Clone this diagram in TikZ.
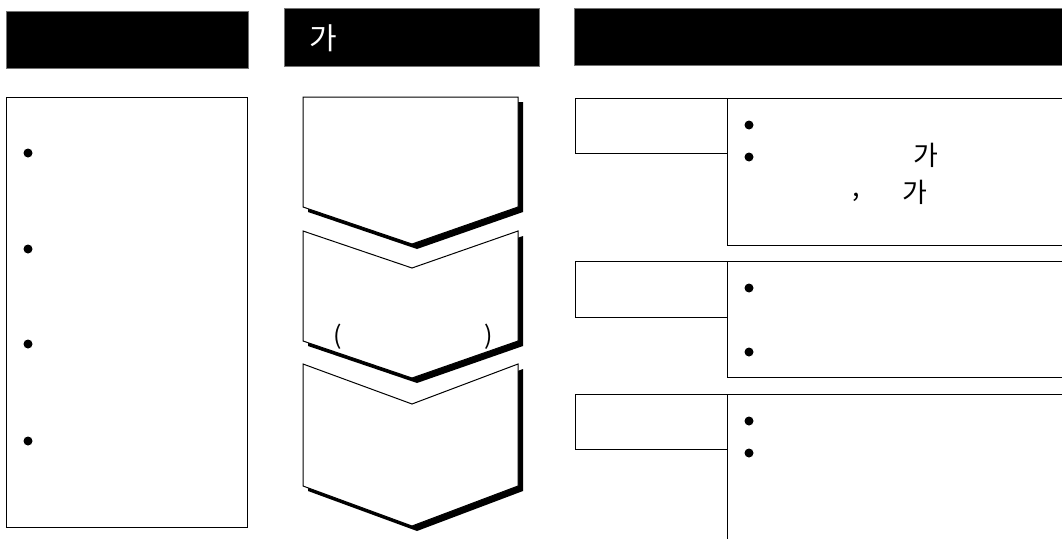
\documentclass[tikz,border=0pt]{standalone}
\usepackage{fontspec}
\setmainfont{Noto Sans CJK KR}
\begin{document}
\begin{tikzpicture}[x=1pt,y=-1pt,
  hbox/.style={draw=black!55,line width=0.8pt,fill=black,inner sep=0pt,outer sep=0pt,anchor=north west},
  pbox/.style={draw=black,line width=1pt,fill=white,inner sep=0pt,outer sep=0pt,anchor=north west},
  bul/.style={circle,fill=black,inner sep=0pt,minimum size=9pt},
  ktext/.style={inner sep=0pt,font=\fontsize{27}{29}\selectfont},
  chev/.style={draw=black,line width=1pt,fill=white,line join=miter},
  shad/.style={fill=black}]
\useasboundingbox (0,0) rectangle (1062,538);
\clip (0,0) rectangle (1062,538);
\fill[white] (0,0) rectangle (1062,538);
% headers
\node[hbox,minimum width=242pt,minimum height=57pt] (h1) at (6,11) {};
\node[hbox,minimum width=255pt,minimum height=58pt] (h2) at (284,8) {};
\node[hbox,minimum width=500pt,minimum height=57pt] (h3) at (574,8) {};
\node[inner sep=0pt,text=white,font=\fontsize{30}{32}\selectfont] (h2t) at (323,38) {가};
% left column
\node[pbox,minimum width=241pt,minimum height=430pt] (lbox) at (6,97) {};
\node[bul] (lb1) at (28,153) {};
\node[bul] (lb2) at (28,249) {};
\node[bul] (lb3) at (28,344) {};
\node[bul] (lb4) at (28,441) {};
% chevrons
\fill[shad,shift={(5,5)}] (303,97) -- (518,97) -- (518,207) -- (412,244) -- (303,207) -- cycle;
\draw[chev] (303,97) -- (518,97) -- (518,207) -- (412,244) -- (303,207) -- cycle;
\fill[shad,shift={(5,5)}] (303,231) -- (412,268) -- (518,231) -- (518,341) -- (412,378) -- (303,341) -- cycle;
\draw[chev] (303,231) -- (412,268) -- (518,231) -- (518,341) -- (412,378) -- (303,341) -- cycle;
\fill[shad,shift={(5,5)}] (303,364) -- (412,404) -- (518,364) -- (518,486) -- (412,526) -- (303,486) -- cycle;
\draw[chev] (303,364) -- (412,404) -- (518,364) -- (518,486) -- (412,526) -- (303,486) -- cycle;
\node[ktext,font=\fontsize{25}{27}\selectfont] (pl) at (338,337) {(};
\node[ktext,font=\fontsize{25}{27}\selectfont] (pr) at (489,337) {)};
% right column, section 1
\node[pbox,minimum width=152pt,minimum height=55pt] (s1a) at (575,98) {};
\node[pbox,minimum width=350pt,minimum height=147pt] (s1b) at (727,98) {};
\node[bul] (r11) at (749,125) {};
\node[bul] (r12) at (749,157) {};
\node[ktext] (t1) at (926,155) {가};
\node[ktext] (t2) at (856,197) {,};
\node[ktext] (t3) at (915,192) {가};
% section 2
\node[pbox,minimum width=152pt,minimum height=56pt] (s2a) at (575,261) {};
\node[pbox,minimum width=350pt,minimum height=116pt] (s2b) at (727,261) {};
\node[bul] (r21) at (749,288) {};
\node[bul] (r22) at (749,352) {};
% section 3
\node[pbox,minimum width=152pt,minimum height=55pt] (s3a) at (575,394) {};
\node[pbox,minimum width=350pt,minimum height=160pt] (s3b) at (727,394) {};
\node[bul] (r31) at (749,421) {};
\node[bul] (r32) at (749,453) {};
\end{tikzpicture}
\end{document}
